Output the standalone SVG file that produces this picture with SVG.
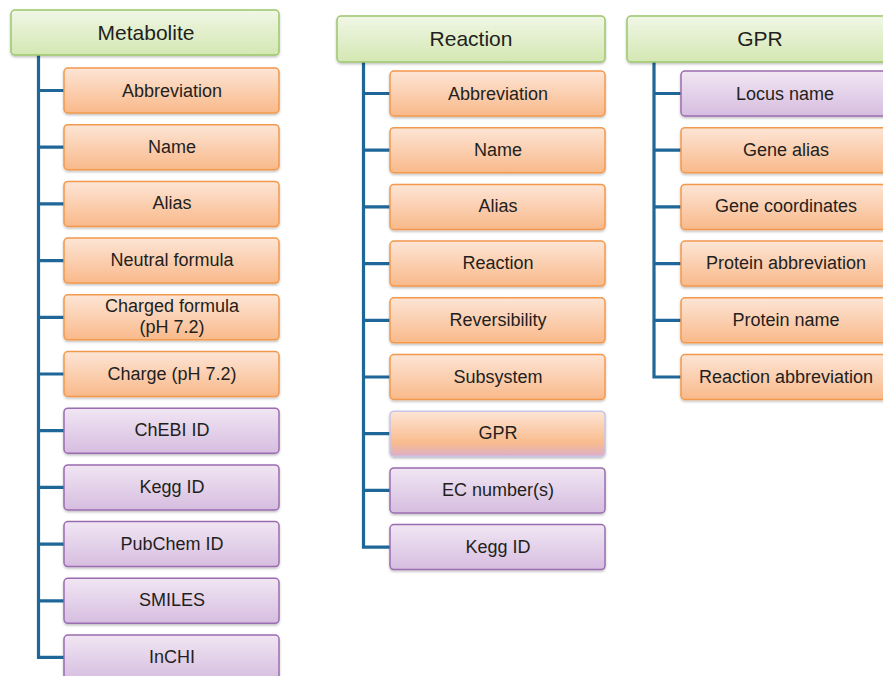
<svg xmlns="http://www.w3.org/2000/svg" width="883" height="676" viewBox="0 0 883 676">
<defs>
<linearGradient id="gGreen" x1="0" y1="0" x2="0" y2="1"><stop offset="0" stop-color="#f1f7e6"/><stop offset="1" stop-color="#d3e7b2"/></linearGradient>
<linearGradient id="gOrange" x1="0" y1="0" x2="0" y2="1"><stop offset="0" stop-color="#fde5d6"/><stop offset="1" stop-color="#f9b98a"/></linearGradient>
<linearGradient id="gPurple" x1="0" y1="0" x2="0" y2="1"><stop offset="0" stop-color="#f1e6f3"/><stop offset="1" stop-color="#d6bde0"/></linearGradient>
<linearGradient id="gMix" x1="0" y1="0" x2="0" y2="1"><stop offset="0" stop-color="#fde5d6"/><stop offset="0.7" stop-color="#f9bc8e"/><stop offset="1" stop-color="#dcaec8"/></linearGradient>
<filter id="sh" x="-5%" y="-10%" width="110%" height="130%"><feDropShadow dx="0" dy="1.5" stdDeviation="1.2" flood-color="#000" flood-opacity="0.25"/></filter>
</defs>
<style>
.hdr{fill:url(#gGreen);stroke:#9cc76c;stroke-width:1.5;filter:url(#sh)}
.org{fill:url(#gOrange);stroke:#f2994c;stroke-width:1.5;filter:url(#sh)}
.pur{fill:url(#gPurple);stroke:#9a6db0;stroke-width:1.5;filter:url(#sh)}
.mix{fill:url(#gMix);stroke:#c8c4ea;stroke-width:1.5;filter:url(#sh)}
text{font-family:"Liberation Sans",Arial,sans-serif;fill:#231f20;text-anchor:middle}
.ht{font-size:21px}
.ct{font-size:18px}
.con{fill:none;stroke:#1f6799;stroke-width:3.2;stroke-linejoin:miter}
</style>
<g id="connectors">
<path class="con" d="M38.5 55V657.4H64M38.5 90.5H64M38.5 147.2H64M38.5 203.9H64M38.5 260.6H64M38.5 317.3H64M38.5 374H64M38.5 430.7H64M38.5 487.4H64M38.5 544.1H64M38.5 600.8H64"/>
<path class="con" d="M363.5 62V547.1H390M363.5 93.5H390M363.5 150.2H390M363.5 206.9H390M363.5 263.6H390M363.5 320.3H390M363.5 377H390M363.5 433.7H390M363.5 490.4H390"/>
<path class="con" d="M654 62V377H681M654 93.5H681M654 150.2H681M654 206.9H681M654 263.6H681M654 320.3H681"/>
</g>
<g id="metabolite"><rect class="hdr" x="11" y="10" width="268" height="45" rx="4"/><text class="ht" x="146" y="40">Metabolite</text></g>
<g id="m-abbreviation"><rect class="org" x="64" y="68" width="215" height="45" rx="4"/><text class="ct" x="172" y="96.5">Abbreviation</text></g>
<g id="m-name"><rect class="org" x="64" y="124.7" width="215" height="45" rx="4"/><text class="ct" x="172" y="152.7">Name</text></g>
<g id="m-alias"><rect class="org" x="64" y="181.4" width="215" height="45" rx="4"/><text class="ct" x="172" y="209.4">Alias</text></g>
<g id="m-neutral"><rect class="org" x="64" y="238.1" width="215" height="45" rx="4"/><text class="ct" x="172" y="266.1">Neutral formula</text></g>
<g id="m-charged"><rect class="org" x="64" y="294.8" width="215" height="45" rx="4"/><text class="ct" x="172" y="311.5">Charged formula</text><text class="ct" x="172" y="332.5">(pH 7.2)</text></g>
<g id="m-charge"><rect class="org" x="64" y="351.5" width="215" height="45" rx="4"/><text class="ct" x="172" y="379.5">Charge (pH 7.2)</text></g>
<g id="m-chebi"><rect class="pur" x="64" y="408.2" width="215" height="45" rx="4"/><text class="ct" x="172" y="436.2">ChEBI ID</text></g>
<g id="m-kegg"><rect class="pur" x="64" y="464.9" width="215" height="45" rx="4"/><text class="ct" x="172" y="492.9">Kegg ID</text></g>
<g id="m-pubchem"><rect class="pur" x="64" y="521.6" width="215" height="45" rx="4"/><text class="ct" x="172" y="549.6">PubChem ID</text></g>
<g id="m-smiles"><rect class="pur" x="64" y="578.3" width="215" height="45" rx="4"/><text class="ct" x="172" y="606.3">SMILES</text></g>
<g id="m-inchi"><rect class="pur" x="64" y="635" width="215" height="45" rx="4"/><text class="ct" x="172" y="663">InCHI</text></g>
<g id="reaction"><rect class="hdr" x="337" y="16" width="268" height="46" rx="4"/><text class="ht" x="471" y="46">Reaction</text></g>
<g id="r-abbreviation"><rect class="org" x="390" y="71" width="215" height="45" rx="4"/><text class="ct" x="498" y="99.5">Abbreviation</text></g>
<g id="r-name"><rect class="org" x="390" y="127.7" width="215" height="45" rx="4"/><text class="ct" x="498" y="155.7">Name</text></g>
<g id="r-alias"><rect class="org" x="390" y="184.4" width="215" height="45" rx="4"/><text class="ct" x="498" y="212.4">Alias</text></g>
<g id="r-reaction"><rect class="org" x="390" y="241.1" width="215" height="45" rx="4"/><text class="ct" x="498" y="269.1">Reaction</text></g>
<g id="r-reversibility"><rect class="org" x="390" y="297.8" width="215" height="45" rx="4"/><text class="ct" x="498" y="325.8">Reversibility</text></g>
<g id="r-subsystem"><rect class="org" x="390" y="354.5" width="215" height="45" rx="4"/><text class="ct" x="498" y="382.5">Subsystem</text></g>
<g id="r-gpr"><rect class="mix" x="390" y="411.2" width="215" height="45" rx="4"/><text class="ct" x="498" y="439.2">GPR</text></g>
<g id="r-ec"><rect class="pur" x="390" y="467.9" width="215" height="45" rx="4"/><text class="ct" x="498" y="495.9">EC number(s)</text></g>
<g id="r-kegg"><rect class="pur" x="390" y="524.6" width="215" height="45" rx="4"/><text class="ct" x="498" y="552.6">Kegg ID</text></g>
<g id="gpr"><rect class="hdr" x="627" y="16" width="268" height="46" rx="4"/><text class="ht" x="760" y="46">GPR</text></g>
<g id="g-locus"><rect class="pur" x="681" y="71" width="215" height="45" rx="4"/><text class="ct" x="785" y="99.5">Locus name</text></g>
<g id="g-alias"><rect class="org" x="681" y="127.7" width="215" height="45" rx="4"/><text class="ct" x="786" y="155.7">Gene alias</text></g>
<g id="g-coords"><rect class="org" x="681" y="184.4" width="215" height="45" rx="4"/><text class="ct" x="786" y="212.4">Gene coordinates</text></g>
<g id="g-protabbr"><rect class="org" x="681" y="241.1" width="215" height="45" rx="4"/><text class="ct" x="786" y="269.1">Protein abbreviation</text></g>
<g id="g-protname"><rect class="org" x="681" y="297.8" width="215" height="45" rx="4"/><text class="ct" x="786" y="325.8">Protein name</text></g>
<g id="g-rxnabbr"><rect class="org" x="681" y="354.5" width="215" height="45" rx="4"/><text class="ct" x="786" y="382.5">Reaction abbreviation</text></g>
</svg>
